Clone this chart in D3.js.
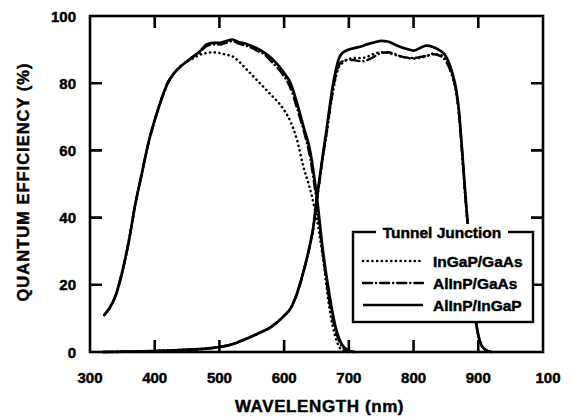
<!DOCTYPE html>
<html>
<head>
<meta charset="utf-8">
<script src="https://cdn.jsdelivr.net/npm/d3@7"></script>
<style>
  body { margin: 0; background: #fff; }
  svg text { font-family: "Liberation Sans", Arial, sans-serif; font-weight: bold; fill: #000; stroke: #000; stroke-width: 0.45px; }
</style>
</head>
<body>
<div id="chart"></div>
<script>
// top cell (InGaP) response, nm
const wavelengthTop = [322, 330, 340, 350, 360, 370, 380, 390, 400, 410, 420, 430, 440, 450, 460, 470, 480, 490, 500, 510, 520, 530, 540, 550, 560, 570, 580, 590, 600, 610, 620, 630, 640, 650, 660, 670, 680, 690, 700, 710]
const topInGaPGaAs = [11, 13, 17, 24, 33, 44, 53, 62, 69, 75, 80, 83, 85, 86.5, 87.5, 88.5, 89, 89.2, 89, 88.5, 88, 86.5, 84.5, 82.5, 80.5, 78.5, 76.5, 74.5, 72, 68.5, 63, 55, 48.5, 40, 28, 13, 4, 0.5, 0, 0]
const topAlInPGaAs = [11, 13, 17, 24, 33, 44, 53, 62, 69, 75, 80, 83, 85, 86.5, 88, 89.3, 91, 91.5, 91.5, 92, 92.5, 91.8, 91.2, 90.5, 89.5, 88.5, 86.5, 84.5, 82, 78.5, 72.5, 66, 58, 45, 29, 15, 6, 1.5, 0.3, 0]
const topAlInPInGaP = [11, 13, 17, 24, 33, 44, 53, 62, 69, 75, 80, 83, 85, 86.5, 88, 89.5, 91.5, 92, 92, 92.5, 93, 92.2, 91.8, 91, 90.2, 89, 87.5, 85.5, 83, 80, 74, 67, 60, 47, 30, 17, 7, 2, 0.4, 0]

// bottom cell (GaAs) response, nm
const wavelengthBottom = [320, 360, 400, 440, 480, 500, 520, 540, 560, 580, 590, 600, 610, 620, 630, 640, 645, 650, 655, 660, 665, 670, 675, 680, 685, 690, 700, 710, 720, 730, 740, 750, 760, 770, 780, 790, 800, 810, 820, 830, 840, 850, 860, 865, 870, 875, 880, 885, 890, 895, 900, 905, 910, 920]
const botInGaPGaAs = [0, 0.1, 0.3, 0.6, 1, 1.5, 2.3, 3.8, 5.5, 7.5, 9, 10.8, 13, 17.5, 24, 32, 37, 44, 51, 58, 64, 71, 77, 82, 85, 86, 87.2, 87.5, 87.5, 88, 88.8, 89.2, 89, 88.5, 88, 87.5, 87.3, 87.6, 88, 88.8, 88.5, 87, 82, 78, 71, 59, 46, 34, 21, 11, 5, 2, 0.8, 0]
const botAlInPGaAs = [0, 0.1, 0.3, 0.6, 1, 1.5, 2.3, 3.8, 5.5, 7.5, 9, 10.8, 13, 17.5, 24, 32, 37, 44.5, 51.5, 58.5, 64.5, 71.5, 77.5, 82.5, 85.5, 86.5, 87, 86.8, 86.5, 87, 88, 89, 89.2, 88.8, 88, 87.6, 87.5, 87.8, 88.2, 88.6, 88.2, 86.5, 82, 78.5, 71.5, 59.5, 46.5, 34.5, 21.5, 11, 5, 2, 0.8, 0]
const botAlInPInGaP = [0, 0.1, 0.3, 0.6, 1, 1.5, 2.3, 3.8, 5.5, 7.5, 9, 10.8, 13, 17.5, 24, 32, 37, 45, 52, 59, 65.5, 72.5, 79, 84, 87.5, 89, 90, 90.5, 91, 91.7, 92.2, 92.6, 92.4, 91.6, 90.8, 90.2, 89.7, 90.5, 91.2, 90.8, 89.8, 88, 83, 79, 72, 60, 47, 35, 22, 11, 5, 2, 0.8, 0]

const seriesNames = ['InGaP/GaAs', 'AlInP/GaAs', 'AlInP/InGaP']
const xTicks = [300, 400, 500, 600, 700, 800, 900, 1000]
const xTickLabels = ['300', '400', '500', '600', '700', '800', '900', '100']
const yTicks = [0, 20, 40, 60, 80, 100]

const styles = [
  { dash: '0.1,4.6', width: 2.6, cap: 'round' },
  { dash: '9,4,0.1,4', width: 2.4, cap: 'round' },
  { dash: null, width: 2.7, cap: 'butt' }
]

const W = 573, H = 417
const plotL = 90, plotR = 543, plotT = 16, plotB = 352
const tickLen = 12

const x = d3.scaleLinear().domain([300, 1000]).range([plotL, plotR])
const y = d3.scaleLinear().domain([0, 100]).range([plotB, plotT])

const svg = d3.select('#chart').append('svg')
  .attr('width', W)
  .attr('height', H)

// inward ticks on all four sides, one path
const innerX = xTicks.slice(1, -1)
const innerY = yTicks.slice(1, -1)
const tickPath = d3.path()
innerX.forEach(d => {
  tickPath.moveTo(x(d), plotB); tickPath.lineTo(x(d), plotB - tickLen)
  tickPath.moveTo(x(d), plotT); tickPath.lineTo(x(d), plotT + tickLen)
})
innerY.forEach(d => {
  tickPath.moveTo(plotL, y(d)); tickPath.lineTo(plotL + tickLen, y(d))
  tickPath.moveTo(plotR, y(d)); tickPath.lineTo(plotR - tickLen, y(d))
})
svg.append('path')
  .attr('d', tickPath.toString())
  .attr('fill', 'none').attr('stroke', '#000').attr('stroke-width', 2.6)

// frame
svg.append('rect')
  .attr('x', plotL).attr('y', plotT)
  .attr('width', plotR - plotL).attr('height', plotB - plotT)
  .attr('fill', 'none').attr('stroke', '#000').attr('stroke-width', 2.6)

// tick labels
svg.append('g').selectAll('text').data(xTicks).enter().append('text')
  .attr('x', (d, i) => x(d) + (d == 1000 ? 5 : 0))
  .attr('y', 383)
  .attr('text-anchor', 'middle')
  .style('font-size', '15px')
  .text((d, i) => xTickLabels[i])

svg.append('g').selectAll('text').data(yTicks).enter().append('text')
  .attr('x', 76)
  .attr('y', d => y(d) + 5.5)
  .attr('text-anchor', 'end')
  .style('font-size', '15px')
  .text(d => d)

// axis titles
svg.append('text')
  .attr('x', (plotL + plotR) / 2 + 3)
  .attr('y', 412)
  .attr('text-anchor', 'middle')
  .style('font-size', '17px')
  .style('letter-spacing', '0.6px')
  .text('WAVELENGTH (nm)')

svg.append('text')
  .attr('transform', 'rotate(-90)')
  .attr('x', -182)
  .attr('y', 29)
  .attr('text-anchor', 'middle')
  .style('font-size', '16.5px')
  .style('letter-spacing', '1px')
  .text('QUANTUM EFFICIENCY (%)')

// curves
const lineGen = d3.line()
  .x(d => x(d[0]))
  .y(d => y(d[1]))
  .curve(d3.curveMonotoneX)

const topSeries = [topInGaPGaAs, topAlInPGaAs, topAlInPInGaP]
const botSeries = [botInGaPGaAs, botAlInPGaAs, botAlInPInGaP]

function drawCurve(wl, vals, s) {
  svg.append('path')
    .datum(wl.map((w, i) => [w, vals[i]]))
    .attr('d', lineGen)
    .attr('fill', 'none')
    .attr('stroke', '#000')
    .attr('stroke-width', s.width)
    .attr('stroke-linecap', s.cap)
    .attr('stroke-linejoin', 'round')
    .attr('stroke-dasharray', s.dash)
}

topSeries.forEach((vals, i) => drawCurve(wavelengthTop, vals, styles[i]))
botSeries.forEach((vals, i) => drawCurve(wavelengthBottom, vals, styles[i]))

// legend
const lg = svg.append('g')
lg.append('rect')
  .attr('x', 353).attr('y', 232)
  .attr('width', 180).attr('height', 90)
  .attr('fill', '#fff').attr('stroke', '#000').attr('stroke-width', 2.4)
lg.append('rect')
  .attr('x', 376).attr('y', 224)
  .attr('width', 132).attr('height', 16)
  .attr('fill', '#fff')
lg.append('text')
  .attr('x', 442).attr('y', 238)
  .attr('text-anchor', 'middle')
  .style('font-size', '15.5px')
  .text('Tunnel Junction')

seriesNames.forEach((name, i) => {
  const ry = 261 + i * 22
  lg.append('line')
    .attr('x1', 363).attr('x2', 423)
    .attr('y1', ry).attr('y2', ry)
    .attr('stroke', '#000')
    .attr('stroke-width', styles[i].width)
    .attr('stroke-linecap', styles[i].cap)
    .attr('stroke-dasharray', styles[i].dash)
  lg.append('text')
    .attr('x', 433).attr('y', ry + 6)
    .style('font-size', '15.5px')
    .text(name)
})
</script>
</body>
</html>
